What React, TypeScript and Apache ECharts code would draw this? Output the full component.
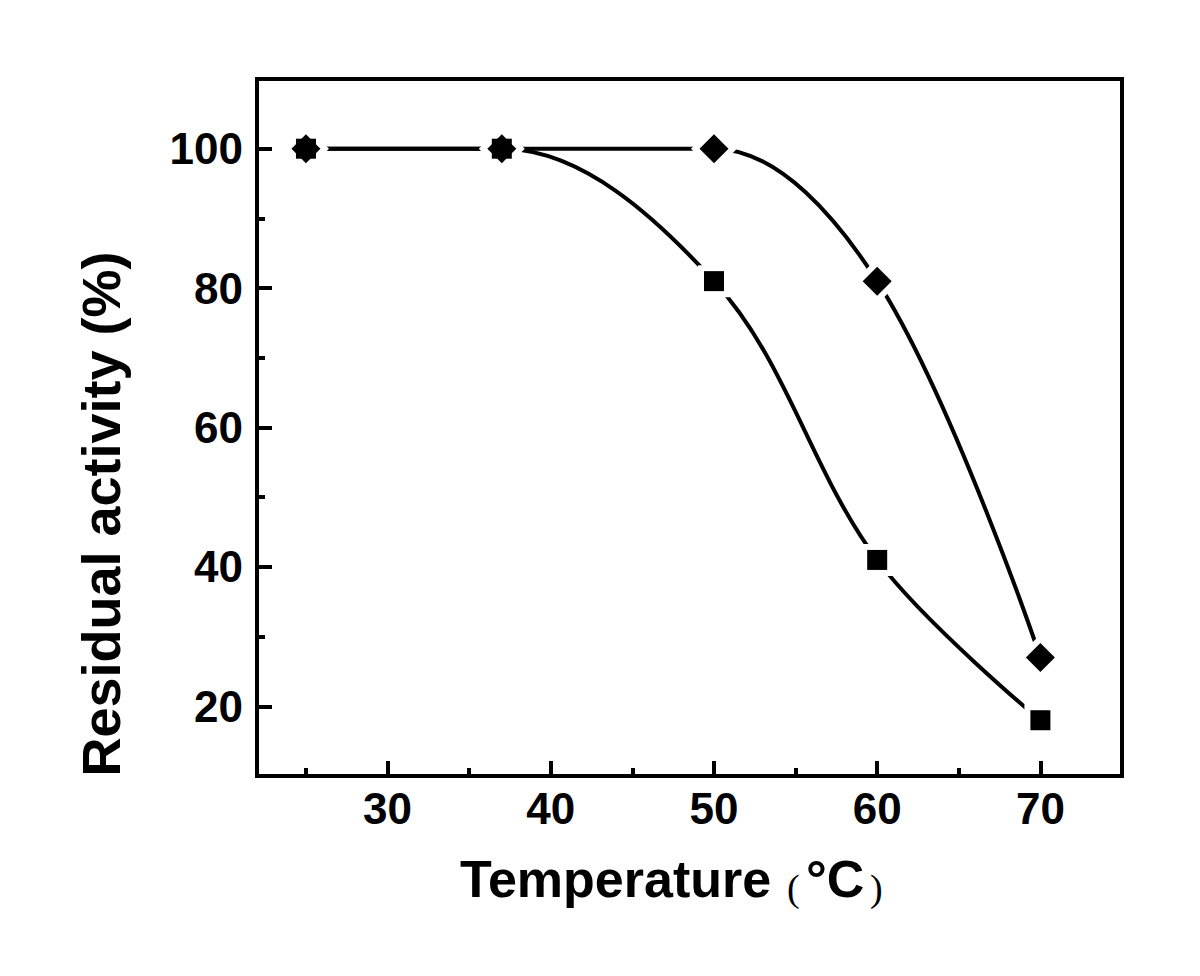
import React, { useEffect, useRef } from "react";
import * as echarts from "echarts";

const temperatures = [25, 37, 50, 60, 70];
const squareActivity = [100, 100, 81, 41, 18];
const diamondActivity = [100, 100, 100, 81, 27];

const xMajorTicks = [30, 40, 50, 60, 70];
const xMinorTicks = [25, 35, 45, 55, 65];
const yMajorTicks = [20, 40, 60, 80, 100];
const yMinorTicks = [30, 50, 70, 90];

const xTitle = "Temperature";
const yTitle = "Residual activity (%)";

const SANS = '"Liberation Sans", Arial, Helvetica, sans-serif';
const SERIF = '"Liberation Serif", "Times New Roman", serif';

function pairs(xs: number[], ys: number[]) {
  return xs.map((x, i) => [x, ys[i]]);
}

export default function App() {
  const ref = useRef<HTMLDivElement>(null);

  useEffect(() => {
    if (!ref.current) return;
    const chart = echarts.init(ref.current, undefined, { renderer: "svg" });
    const sq = pairs(temperatures, squareActivity);
    const di = pairs(temperatures, diamondActivity);

    const lineStyle = { color: "#000", width: 4, opacity: 1 };
    const xBase = {
      type: "value" as const,
      min: 22,
      max: 75,
      splitLine: { show: false },
      axisLine: { show: false },
    };
    const yBase = {
      type: "value" as const,
      min: 10,
      max: 110,
      splitLine: { show: false },
      axisLine: { show: false },
    };
    const gapStyle = { color: "#000", borderColor: "#fff", borderWidth: 12, opacity: 1 };
    const markStyle = { color: "#000", borderWidth: 0, opacity: 1 };

    chart.setOption({
      animation: false,
      backgroundColor: "#fff",
      grid: {
        left: 257,
        right: 78,
        top: 79,
        bottom: 200,
        show: true,
        borderColor: "#000",
        borderWidth: 4,
        backgroundColor: "transparent",
      },
      xAxis: [
        {
          ...xBase,
          position: "bottom",
          axisTick: {
            inside: true,
            length: 15,
            lineStyle: { color: "#000", width: 4 },
            customValues: xMajorTicks,
          },
          axisLabel: {
            customValues: xMajorTicks,
            margin: 10,
            color: "#000",
            fontFamily: SANS,
            fontWeight: "bold",
            fontSize: 44,
          },
        },
        {
          ...xBase,
          position: "bottom",
          axisTick: {
            inside: true,
            length: 8,
            lineStyle: { color: "#000", width: 4 },
            customValues: xMinorTicks,
          },
          axisLabel: { show: false },
        },
      ],
      yAxis: [
        {
          ...yBase,
          position: "left",
          axisTick: {
            inside: true,
            length: 15,
            lineStyle: { color: "#000", width: 4 },
            customValues: yMajorTicks,
          },
          axisLabel: {
            customValues: yMajorTicks,
            margin: 14,
            color: "#000",
            fontFamily: SANS,
            fontWeight: "bold",
            fontSize: 44,
          },
        },
        {
          ...yBase,
          position: "left",
          axisTick: {
            inside: true,
            length: 8,
            lineStyle: { color: "#000", width: 4 },
            customValues: yMinorTicks,
          },
          axisLabel: { show: false },
        },
      ],
      graphic: [
        {
          type: "text",
          x: 460,
          y: 879,
          style: {
            text: xTitle,
            font: `bold 52px ${SANS}`,
            fill: "#000",
            align: "left",
            verticalAlign: "middle",
          },
        },
        {
          type: "text",
          x: 787,
          y: 888,
          style: { text: "(", font: `38px ${SERIF}`, fill: "#000", align: "left", verticalAlign: "middle" },
        },
        {
          type: "text",
          x: 806,
          y: 879,
          style: { text: "°C", font: `bold 52px ${SANS}`, fill: "#000", align: "left", verticalAlign: "middle" },
        },
        {
          type: "text",
          x: 870,
          y: 888,
          style: { text: ")", font: `38px ${SERIF}`, fill: "#000", align: "left", verticalAlign: "middle" },
        },
        {
          type: "text",
          x: 101,
          y: 514,
          rotation: Math.PI / 2,
          style: {
            text: yTitle,
            font: `bold 54px ${SANS}`,
            fill: "#000",
            align: "center",
            verticalAlign: "middle",
          },
        },
      ],
      series: [
        {
          type: "line",
          data: sq,
          smooth: 0.35,
          showSymbol: false,
          lineStyle,
          z: 2,
        },
        {
          type: "line",
          data: di,
          smooth: 0.35,
          showSymbol: false,
          lineStyle,
          z: 2,
        },
        {
          type: "scatter",
          data: sq,
          symbol: "rect",
          symbolSize: 20,
          itemStyle: gapStyle,
          z: 3,
        },
        {
          type: "scatter",
          data: di,
          symbol: "diamond",
          symbolSize: 29,
          itemStyle: gapStyle,
          z: 3,
        },
        {
          type: "scatter",
          data: sq,
          symbol: "rect",
          symbolSize: 20,
          itemStyle: markStyle,
          z: 4,
        },
        {
          type: "scatter",
          data: di,
          symbol: "diamond",
          symbolSize: 29,
          itemStyle: markStyle,
          z: 4,
        },
      ],
    });

    return () => chart.dispose();
  }, []);

  return (
    <div
      ref={ref}
      style={{ position: "absolute", left: 0, top: 0, width: 1200, height: 976 }}
    />
  );
}
